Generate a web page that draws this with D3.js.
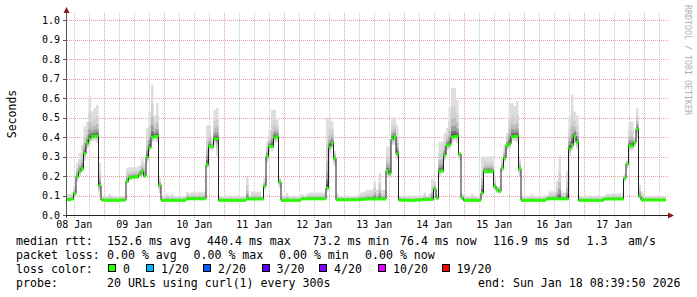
<!DOCTYPE html>
<html>
<head>
<meta charset="utf-8">
<script src="https://cdn.jsdelivr.net/npm/d3@7"></script>
<style>
  body { margin: 0; background: #fff; }
  svg { display: block; }
  text { font-family: "DejaVu Sans Mono", monospace; fill: #000; }
</style>
</head>
<body>
<div id="chart"></div>
<script>
// hourly medians (seconds), starting 08 Jan 08:39:50
var median = [
  0.078,0.078,0.082,0.109,0.198,0.222,0.238,0.315,0.368,0.390,0.403,0.405,0.405,0.152,
  0.077,0.076,0.075,0.075,0.075,0.075,0.075,0.076,0.076,0.077,
  0.173,0.190,0.193,0.195,0.195,0.207,0.224,0.200,0.296,0.344,0.400,0.403,0.403,0.155,
  0.075,0.075,0.075,0.075,0.075,0.075,0.075,0.075,0.075,0.075,0.083,0.083,0.083,0.083,0.083,0.083,0.083,0.083,
  0.258,0.352,0.352,0.390,0.390,
  0.075,0.075,0.075,0.075,0.075,0.075,0.075,0.075,0.075,0.075,0.075,0.082,0.082,0.082,0.082,0.082,0.082,0.082,
  0.147,0.301,0.352,0.352,0.395,0.403,0.170,
  0.075,0.075,0.075,0.075,0.075,0.075,0.075,0.075,0.083,0.083,0.083,0.083,0.083,0.083,0.083,0.083,0.083,0.083,
  0.138,0.349,0.369,0.292,
  0.078,0.078,0.078,0.078,0.078,0.078,0.078,0.078,0.078,0.079,0.080,0.080,0.082,0.082,0.082,0.082,0.082,0.082,0.082,0.082,
  0.227,0.212,0.390,0.403,0.313,
  0.077,0.076,0.076,0.075,0.075,0.075,0.075,0.076,0.077,0.078,0.079,0.080,0.080,0.080,
  0.135,0.087,0.224,0.227,0.306,0.357,0.360,0.400,0.403,0.403,0.313,
  0.087,0.075,0.075,0.075,0.075,0.075,0.075,0.075,
  0.113,0.224,0.224,0.224,0.224,0.147,0.130,0.122,0.241,0.292,0.357,0.364,0.403,0.403,0.403,0.237,
  0.075,0.075,0.075,0.075,0.075,0.075,0.075,0.075,0.075,0.075,0.083,0.083,0.083,0.083,0.083,0.083,0.083,0.083,0.083,
  0.340,0.360,0.405,0.374,
  0.075,0.075,0.075,0.075,0.075,0.075,0.075,0.075,0.075,0.075,0.082,0.082,0.082,0.082,0.082,0.082,0.082,0.082,
  0.188,0.262,0.354,0.354,0.371,0.440,0.097,
  0.077,0.077,0.077,0.077,0.077,0.077,0.077,0.077,0.077,0.077
];
// highest ping of each hour
var smokeHi = [
  0.108,0.108,0.115,0.155,0.267,0.318,0.360,0.455,0.480,0.609,0.532,0.549,0.566,0.267,
  0.100,0.098,0.098,0.108,0.100,0.098,0.098,0.098,0.100,0.098,
  0.241,0.245,0.245,0.245,0.245,0.255,0.290,0.267,0.446,0.530,0.668,0.510,0.576,0.190,
  0.100,0.098,0.110,0.100,0.108,0.098,0.098,0.100,0.098,0.098,0.120,0.110,0.118,0.120,0.115,0.120,0.118,0.120,
  0.460,0.460,0.390,0.540,0.550,
  0.100,0.098,0.098,0.098,0.100,0.098,0.098,0.100,0.098,0.098,0.100,0.198,0.100,0.120,0.120,0.118,0.120,0.100,
  0.190,0.378,0.437,0.540,0.540,0.497,0.190,
  0.100,0.098,0.113,0.098,0.098,0.100,0.098,0.100,0.108,0.100,0.108,0.115,0.115,0.115,0.115,0.115,0.115,0.115,
  0.500,0.500,0.480,0.330,
  0.110,0.100,0.098,0.098,0.100,0.098,0.098,0.100,0.100,0.115,0.115,0.120,0.130,0.130,0.130,0.175,0.130,0.215,0.130,0.130,
  0.349,0.350,0.500,0.500,0.460,
  0.100,0.098,0.098,0.098,0.100,0.098,0.100,0.100,0.098,0.100,0.115,0.100,0.110,0.183,
  0.175,0.110,0.374,0.374,0.420,0.446,0.550,0.651,0.651,0.590,0.318,
  0.110,0.100,0.098,0.098,0.108,0.100,0.098,0.100,
  0.300,0.300,0.300,0.300,0.300,0.190,0.150,0.150,0.290,0.364,0.420,0.574,0.574,0.560,0.583,0.290,
  0.100,0.098,0.098,0.100,0.108,0.098,0.098,0.100,0.098,0.100,0.100,0.120,0.120,0.120,0.175,0.306,0.120,0.115,0.224,
  0.506,0.617,0.530,0.510,
  0.100,0.098,0.098,0.098,0.100,0.098,0.098,0.100,0.098,0.098,0.100,0.110,0.108,0.110,0.110,0.110,0.110,0.110,
  0.210,0.280,0.480,0.480,0.400,0.547,0.154,
  0.120,0.100,0.098,0.098,0.095,0.095,0.095,0.095,0.095,0.095
];
// lowest ping of each hour
var smokeLo = [
  0.074,0.074,0.077,0.095,0.170,0.200,0.220,0.280,0.340,0.360,0.380,0.380,0.370,0.100,
  0.072,0.072,0.072,0.072,0.072,0.072,0.072,0.072,0.072,0.072,
  0.160,0.180,0.185,0.185,0.185,0.195,0.200,0.190,0.270,0.330,0.370,0.380,0.370,0.110,
  0.071,0.071,0.071,0.071,0.071,0.071,0.071,0.071,0.071,0.071,0.078,0.078,0.078,0.078,0.078,0.078,0.078,0.078,
  0.240,0.330,0.330,0.360,0.300,
  0.071,0.071,0.071,0.071,0.071,0.071,0.071,0.071,0.071,0.071,0.071,0.078,0.078,0.078,0.078,0.078,0.078,0.078,
  0.130,0.270,0.330,0.330,0.370,0.370,0.140,
  0.071,0.071,0.071,0.071,0.071,0.071,0.071,0.071,0.078,0.078,0.078,0.078,0.078,0.078,0.078,0.078,0.078,0.078,
  0.120,0.300,0.340,0.250,
  0.074,0.074,0.074,0.074,0.074,0.074,0.074,0.074,0.074,0.074,0.074,0.074,0.078,0.078,0.078,0.078,0.078,0.078,0.078,0.078,
  0.200,0.190,0.360,0.360,0.280,
  0.072,0.072,0.072,0.072,0.072,0.072,0.072,0.072,0.072,0.075,0.075,0.075,0.075,0.075,
  0.120,0.080,0.200,0.210,0.280,0.330,0.340,0.370,0.380,0.370,0.280,
  0.080,0.071,0.071,0.071,0.071,0.071,0.071,0.071,
  0.100,0.210,0.210,0.210,0.210,0.130,0.110,0.110,0.220,0.270,0.330,0.340,0.380,0.380,0.370,0.200,
  0.071,0.071,0.071,0.071,0.071,0.071,0.071,0.071,0.071,0.071,0.078,0.078,0.078,0.078,0.078,0.078,0.078,0.078,0.078,
  0.300,0.330,0.370,0.340,
  0.071,0.071,0.071,0.071,0.071,0.071,0.071,0.071,0.071,0.071,0.077,0.077,0.077,0.077,0.077,0.077,0.077,0.077,
  0.170,0.240,0.330,0.330,0.350,0.400,0.085,
  0.073,0.073,0.073,0.073,0.073,0.073,0.073,0.073,0.073,0.073
];

var yTicks = [0, 0.1, 0.2, 0.3, 0.4, 0.5, 0.6, 0.7, 0.8, 0.9, 1.0];
var rttStats = [
  {x: 107, t: "152.6 ms avg"}, {x: 207, t: "440.4 ms max"}, {x: 312.5, t: "73.2 ms min"},
  {x: 400, t: "76.4 ms now"}, {x: 493, t: "116.9 ms sd"}, {x: 586.5, t: "1.3"}, {x: 628, t: "am/s"}
];
var lossStats = [
  {x: 107, t: "0.00 % avg"}, {x: 193.5, t: "0.00 % max"}, {x: 279, t: "0.00 % min"}, {x: 365, t: "0.00 % now"}
];
var lossLabels = ["0", "1/20", "2/20", "3/20", "4/20", "10/20", "19/20"];
var lossColors = ["#26ff00", "#00b8ff", "#0059ff", "#5e00ff", "#7e00ff", "#dd00ff", "#ff0000"];
var lossBoxX = [108, 146, 203, 261.5, 319, 378, 441.5];

var width = 697, height = 297,
    t0 = new Date(Date.UTC(2026, 0, 8, 8, 39, 50)),
    t1 = new Date(Date.UTC(2026, 0, 18, 8, 39, 50)),
    hour = 3600 * 1000;

var svg = d3.select("#chart").append("svg")
    .attr("width", width)
    .attr("height", height);

var x = d3.scaleUtc().domain([t0, t1]).range([66, 666]),
    y = d3.scaleLinear().domain([0, 1]).range([215, 20]);

var pts = median.map(function(m, i) {
    return {t: new Date(t0.getTime() + i * hour), m: m, hi: smokeHi[i], lo: smokeLo[i]};
});
// closing point so the last step reaches the right edge
pts.push({t: t1, m: median[median.length - 1], hi: smokeHi[smokeHi.length - 1], lo: smokeLo[smokeLo.length - 1]});

// grid
var grid = svg.append("g").attr("shape-rendering", "crispEdges");
grid.selectAll(".vmin")
    .data(d3.utcHour.every(6).range(t0, t1).filter(function(d) { return d.getUTCHours() != 0; }))
    .enter().append("line")
    .attr("x1", function(d) { return Math.round(x(d)) + 0.5; })
    .attr("x2", function(d) { return Math.round(x(d)) + 0.5; })
    .attr("y1", 13).attr("y2", 218)
    .attr("stroke", "#c4c4c4").attr("stroke-dasharray", "1,1");
grid.selectAll(".vmaj")
    .data(d3.utcDay.range(t0, t1))
    .enter().append("line")
    .attr("x1", function(d) { return Math.round(x(d)) + 0.5; })
    .attr("x2", function(d) { return Math.round(x(d)) + 0.5; })
    .attr("y1", 13).attr("y2", 218)
    .attr("stroke", "#eaa0a0").attr("stroke-dasharray", "1,1");
grid.selectAll(".hmaj")
    .data(yTicks.slice(1))
    .enter().append("line")
    .attr("x1", 63).attr("x2", 668)
    .attr("y1", function(d) { return Math.round(y(d)) + 0.5; })
    .attr("y2", function(d) { return Math.round(y(d)) + 0.5; })
    .attr("stroke", "#eaa0a0").attr("stroke-dasharray", "1,1");

// smoke layers, outer ones lightest
var shades = [
    {f: 1.00, c: "#dedede"}, {f: 0.62, c: "#d2d2d2"}, {f: 0.38, c: "#bdbdbd"},
    {f: 0.22, c: "#9c9c9c"}, {f: 0.11, c: "#707070"}, {f: 0.05, c: "#444444"}
];
var smoke = svg.append("g");
shades.forEach(function(s) {
    var area = d3.area()
        .curve(d3.curveStepAfter)
        .x(function(d) { return x(d.t); })
        .y0(function(d) { return y(d.m - (d.m - d.lo) * s.f); })
        .y1(function(d) { return y(d.m + (d.hi - d.m) * s.f); });
    smoke.append("path")
        .datum(pts)
        .attr("d", area)
        .attr("fill", s.c);
});

// median line
var line = d3.line()
    .curve(d3.curveStepAfter)
    .x(function(d) { return x(d.t); })
    .y(function(d) { return y(d.m); });
svg.append("path")
    .datum(pts)
    .attr("d", line)
    .attr("fill", "none")
    .attr("stroke", "#202020")
    .attr("stroke-width", 1);

// loss colour band on the median (no loss anywhere -> green)
svg.append("g").selectAll("rect")
    .data(pts.slice(0, -1))
    .enter().append("rect")
    .attr("x", function(d) { return x(d.t); })
    .attr("width", x(new Date(t0.getTime() + hour)) - x(t0))
    .attr("y", function(d) { return y(d.m) - 1.5; })
    .attr("height", 3)
    .attr("fill", lossColors[0]);

// axes
var axes = svg.append("g").attr("shape-rendering", "crispEdges");
axes.append("line")
    .attr("x1", 66.5).attr("x2", 66.5).attr("y1", 12).attr("y2", 218)
    .attr("stroke", "#555");
axes.append("line")
    .attr("x1", 63).attr("x2", 669).attr("y1", 215.5).attr("y2", 215.5)
    .attr("stroke", "#222");
axes.selectAll(".yt")
    .data(yTicks)
    .enter().append("line")
    .attr("x1", 63).attr("x2", 66)
    .attr("y1", function(d) { return Math.round(y(d)) + 0.5; })
    .attr("y2", function(d) { return Math.round(y(d)) + 0.5; })
    .attr("stroke", "#555");
svg.append("path")
    .attr("d", "M66.5,7 L63.5,13 L69.5,13 Z")
    .attr("fill", "#8b1a1a");
svg.append("path")
    .attr("d", "M674,215.5 L668,212.5 L668,218.5 Z")
    .attr("fill", "#8b1a1a");

// tick labels, day names at noon
var dayNoons = d3.utcDay.range(d3.utcDay.floor(t0), t1)
    .map(function(d) { return d3.utcHour.offset(d, 12); })
    .filter(function(d) { return d > t0 && d < t1; });
svg.append("g").selectAll("text")
    .data(yTicks)
    .enter().append("text")
    .attr("x", 60)
    .attr("y", function(d) { return y(d) + 3.8; })
    .attr("text-anchor", "end")
    .style("font-size", "10px")
    .text(function(d) { return d3.format(".1f")(d); });
svg.append("g").selectAll("text")
    .data(dayNoons)
    .enter().append("text")
    .attr("x", function(d) { return x(d); })
    .attr("y", 228)
    .attr("text-anchor", "middle")
    .style("font-size", "10px")
    .text(d3.utcFormat("%d %b"));

svg.append("text")
    .attr("transform", "translate(15.5,114) rotate(-90)")
    .attr("text-anchor", "middle")
    .style("font-size", "11.5px")
    .text("Seconds");
svg.append("text")
    .attr("transform", "translate(685,5) rotate(90)")
    .style("font-size", "8.3px")
    .style("fill", "#b0b0b0")
    .text("RRDTOOL / TOBI OETIKER");

// legend
var legend = svg.append("g").style("font-size", "11.6px");
function row(yy, label, items) {
    legend.append("text").attr("x", 16).attr("y", yy).text(label);
    items.forEach(function(it) {
        legend.append("text").attr("x", it.x).attr("y", yy).text(it.t);
    });
}
row(244.5, "median rtt:", rttStats);
row(258.5, "packet loss:", lossStats);
row(272.5, "loss color:", []);
lossLabels.forEach(function(l, i) {
    legend.append("rect")
        .attr("x", lossBoxX[i] + 0.5).attr("y", 264.5)
        .attr("width", 7).attr("height", 7)
        .attr("fill", lossColors[i])
        .attr("stroke", "#000")
        .attr("shape-rendering", "crispEdges");
    legend.append("text").attr("x", lossBoxX[i] + 15).attr("y", 272.5).text(l);
});
row(286.5, "probe:", [{x: 107, t: "20 URLs using curl(1) every 300s"}, {x: 478, t: "end: Sun Jan 18 08:39:50 2026"}]);
</script>
</body>
</html>
